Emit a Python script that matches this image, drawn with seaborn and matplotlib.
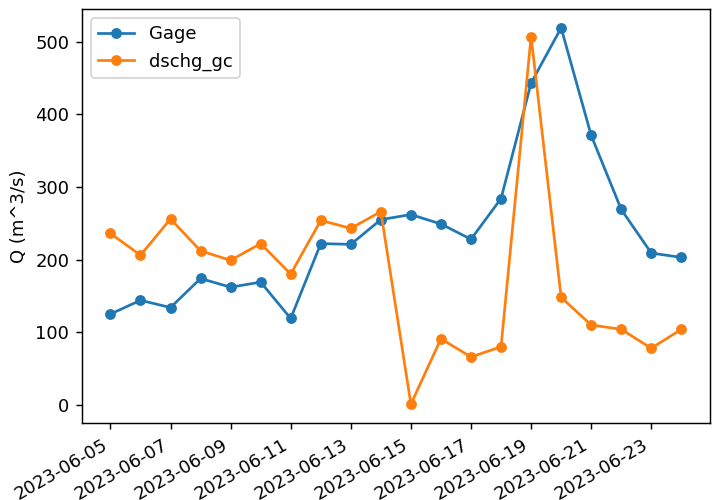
import matplotlib
matplotlib.use("Agg")
import matplotlib.pyplot as plt
import matplotlib.dates as mdates
import pandas as pd
import seaborn as sns

# Daily discharge, June 2023
dates = pd.date_range("2023-06-05", "2023-06-24", freq="D")
gage = [125, 144, 134, 174, 162, 169, 119, 222, 221, 255,
        262, 249, 228, 284, 443, 519, 371, 269, 209, 203]
dschg_gc = [236, 206, 256, 212, 199, 222, 180, 254, 243, 266,
            1, 91, 66, 80, 507, 148, 110, 104, 78, 104]

df = pd.DataFrame({"date": dates, "Gage": gage, "dschg_gc": dschg_gc})

DPI = 130
fig, ax = plt.subplots(figsize=(712 / DPI, 500 / DPI), dpi=DPI)
fig.subplots_adjust(left=0.115, right=0.997, top=0.982, bottom=0.154)

sns.lineplot(data=df, x="date", y="Gage", marker="o", markersize=6,
             markeredgewidth=0, color="#1f77b4", label="Gage", ax=ax)
sns.lineplot(data=df, x="date", y="dschg_gc", marker="o", markersize=6,
             markeredgewidth=0, color="#ff7f0e", label="dschg_gc", ax=ax)

ax.set_xlabel("")
ax.set_ylabel("Q (m^3/s)")
ax.xaxis.set_major_locator(mdates.DayLocator(interval=2))
ax.xaxis.set_major_formatter(mdates.DateFormatter("%Y-%m-%d"))
for lbl in ax.get_xticklabels():
    lbl.set_rotation(30)
    lbl.set_ha("right")
ax.legend(loc="upper left")

fig.savefig("out.png", dpi=DPI)
